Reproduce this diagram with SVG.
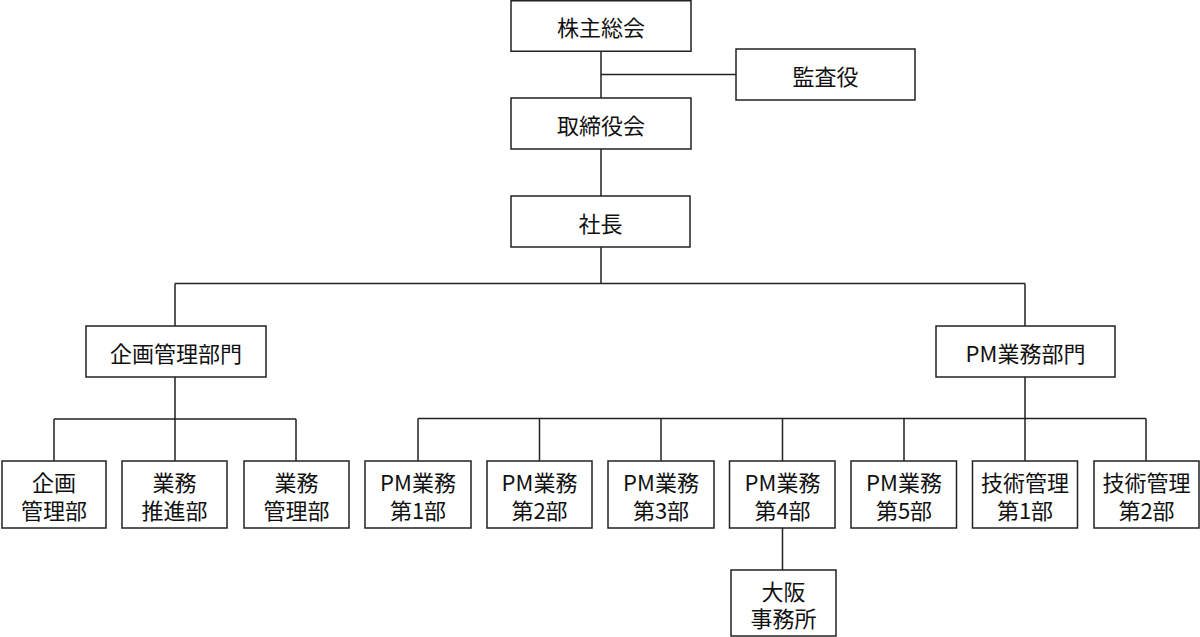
<svg xmlns="http://www.w3.org/2000/svg" width="1200" height="637" viewBox="0 0 1200 637">
<style>
rect{fill:#fff;stroke:#222;stroke-width:1.5}
text{font-family:"Noto Sans CJK JP","Noto Sans",sans-serif;font-size:22px;fill:#111;text-anchor:middle;dominant-baseline:central}
#connectors path{fill:none;stroke:#222;stroke-width:1.5}
</style>
<rect x="0" y="0" width="1200" height="637" style="stroke:none"/>
<g id="connectors">
<path d="M601 51V98"/>
<path d="M601 74.5H736"/>
<path d="M601 149V196"/>
<path d="M601 247V283.5M175 283.5H1025M175 283.5V326M1025 283.5V326"/>
<path d="M175 377V419M54 419H296M54 419V461M175 419V461M296 419V461"/>
<path d="M1025 377V418.5M418 418.5H1146M418 418.5V461M539.5 418.5V461M661 418.5V461M782.5 418.5V461M904 418.5V461M1025 418.5V461M1146 418.5V461"/>
<path d="M782.5 528V570"/>
</g>
<g id="n1"><rect x="511" y="0.75" width="180" height="50.5"/><text x="601" y="26">株主総会</text></g>
<g id="n2"><rect x="736" y="49" width="179" height="51"/><text x="825.5" y="74.5">監査役</text></g>
<g id="n3"><rect x="511" y="98" width="180" height="51"/><text x="601" y="123.5">取締役会</text></g>
<g id="n4"><rect x="511" y="196" width="179" height="51"/><text x="600.5" y="221.5">社長</text></g>
<g id="n5"><rect x="86" y="326" width="180" height="51"/><text x="176" y="351.5">企画管理部門</text></g>
<g id="n6"><rect x="936" y="326" width="179" height="51"/><text x="1025.5" y="351.5">PM業務部門</text></g>
<g id="n7"><rect x="2" y="461" width="104" height="67"/><text x="54" y="481">企画</text><text x="54" y="508.5">管理部</text></g>
<g id="n8"><rect x="122" y="461" width="105" height="67"/><text x="174.5" y="481">業務</text><text x="174.5" y="508.5">推進部</text></g>
<g id="n9"><rect x="244" y="461" width="105" height="67"/><text x="296.5" y="481">業務</text><text x="296.5" y="508.5">管理部</text></g>
<g id="n10"><rect x="365" y="461" width="106" height="67"/><text x="418" y="481">PM業務</text><text x="418" y="508.5">第1部</text></g>
<g id="n11"><rect x="487" y="461" width="105" height="67"/><text x="539.5" y="481">PM業務</text><text x="539.5" y="508.5">第2部</text></g>
<g id="n12"><rect x="608" y="461" width="106" height="67"/><text x="661" y="481">PM業務</text><text x="661" y="508.5">第3部</text></g>
<g id="n13"><rect x="729.5" y="461" width="105.5" height="67"/><text x="782.5" y="481">PM業務</text><text x="782.5" y="508.5">第4部</text></g>
<g id="n14"><rect x="851" y="461" width="105.5" height="67"/><text x="904" y="481">PM業務</text><text x="904" y="508.5">第5部</text></g>
<g id="n15"><rect x="972.5" y="461" width="105" height="67"/><text x="1025" y="481">技術管理</text><text x="1025" y="508.5">第1部</text></g>
<g id="n16"><rect x="1094" y="461" width="105" height="67"/><text x="1146.5" y="481">技術管理</text><text x="1146.5" y="508.5">第2部</text></g>
<g id="n17"><rect x="731" y="570" width="105" height="66"/><text x="783.5" y="589.5">大阪</text><text x="783.5" y="617">事務所</text></g>
</svg>
